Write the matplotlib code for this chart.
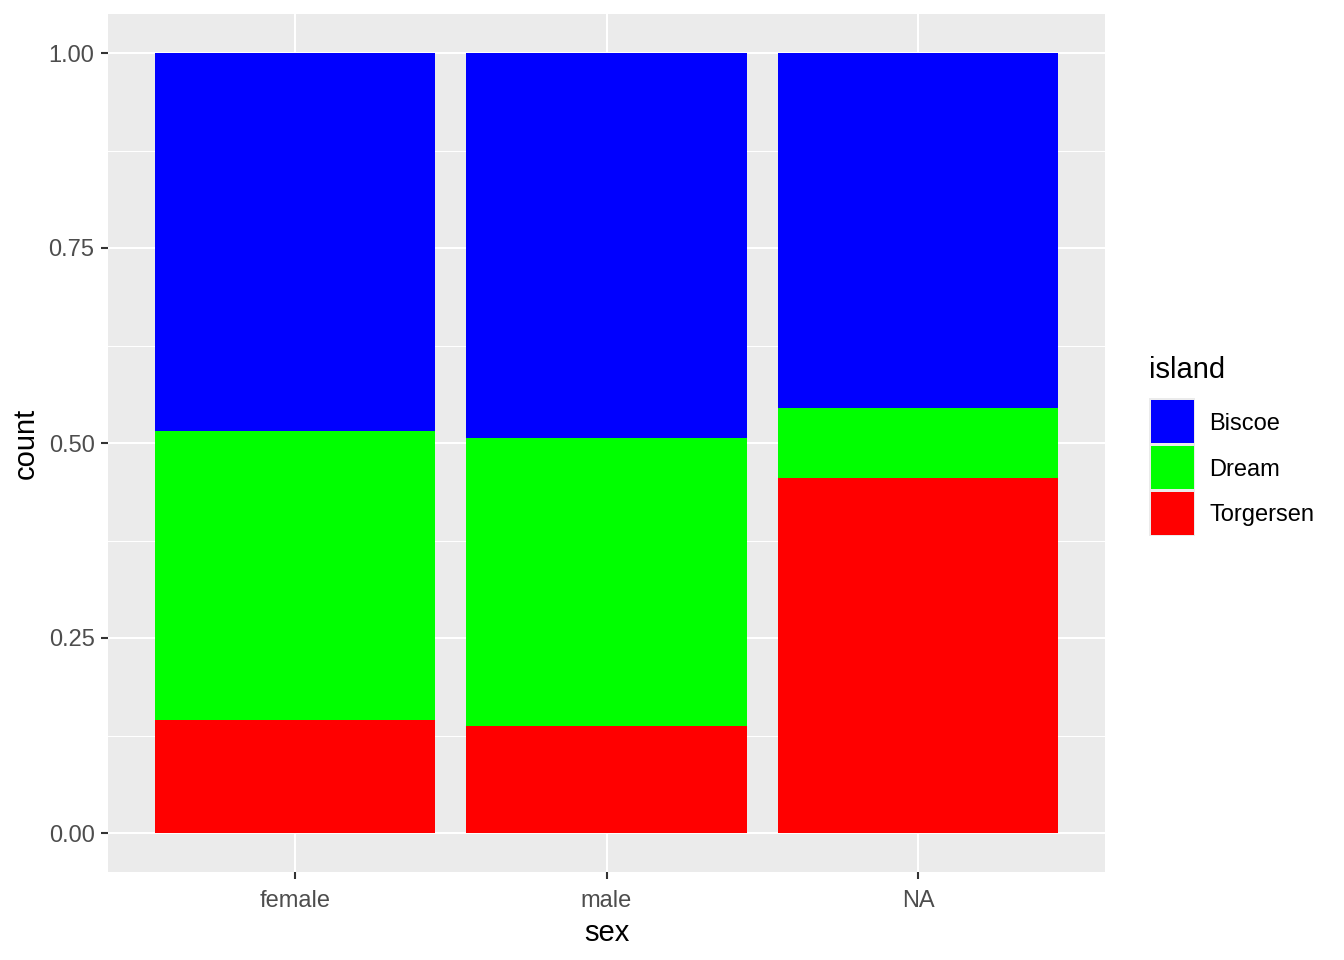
import matplotlib
matplotlib.use("Agg")
import matplotlib.pyplot as plt
from matplotlib.patches import Rectangle
import numpy as np

plt.rcParams['font.family'] = ['Liberation Sans', 'DejaVu Sans']

sexes = ["female", "male", "NA"]
islands = ["Biscoe", "Dream", "Torgersen"]
colors = {"Biscoe": "#0000FF", "Dream": "#00FF00", "Torgersen": "#FF0000"}
biscoe = [80, 83, 5]
dream = [61, 62, 1]
torgersen = [24, 23, 5]

counts = {"Biscoe": np.array(biscoe, float), "Dream": np.array(dream, float),
          "Torgersen": np.array(torgersen, float)}
total = sum(counts.values())

W, H = 1344, 960
fig = plt.figure(figsize=(W / 100, H / 100), dpi=100)
ax = fig.add_axes([108 / W, 1 - 872 / H, (1105 - 108) / W, (872 - 14) / H])
ax.set_facecolor("#EBEBEB")

x = np.arange(1, len(sexes) + 1)
bottom = np.zeros(len(sexes))
for isl in ["Torgersen", "Dream", "Biscoe"]:
    frac = counts[isl] / total
    ax.bar(x, frac, width=0.9, bottom=bottom, color=colors[isl], zorder=3, linewidth=0)
    bottom += frac

ax.set_xlim(0.4, 3.6)
ax.set_ylim(-0.05, 1.05)
ax.set_yticks([0, 0.25, 0.5, 0.75, 1.0])
ax.set_yticklabels(["0.00", "0.25", "0.50", "0.75", "1.00"])
ax.set_yticks([0.125, 0.375, 0.625, 0.875], minor=True)
ax.set_xticks(x)
ax.set_xticklabels(sexes)

ax.grid(which="major", color="white", linewidth=1.5, zorder=1)
ax.grid(which="minor", axis="y", color="white", linewidth=0.75, zorder=1)
ax.set_axisbelow(True)
for s in ax.spines.values():
    s.set_visible(False)
ax.tick_params(which="major", length=5.3, width=1.5, color="#333333",
               labelcolor="#4D4D4D", labelsize=17, pad=4.4)
ax.tick_params(axis="x", which="major", pad=7.5)
ax.tick_params(which="minor", length=0)

ax.set_xlabel("sex", fontsize=21, color="black", labelpad=5)
ax.set_ylabel("count", fontsize=21, color="black", labelpad=6)

# legend
def fx(px):
    return px / W

def fy(py):
    return 1 - py / H

fig.text(fx(1149), fy(378), "island", fontsize=21, color="black", va="baseline", ha="left")
key_top = 398
key_h = 46
for i, isl in enumerate(islands):
    top = key_top + i * key_h
    fig.add_artist(Rectangle((fx(1149), fy(top + key_h)), fx(1195) - fx(1149), key_h / H,
                             transform=fig.transFigure, facecolor="#EBEBEB", edgecolor="none"))
    fig.add_artist(Rectangle((fx(1150.5), fy(top + key_h - 1.5)), fx(1193.5) - fx(1150.5),
                             (key_h - 3) / H, transform=fig.transFigure,
                             facecolor=colors[isl], edgecolor="none"))
    fig.text(fx(1209), fy(top + key_h / 2), isl, fontsize=17, color="black",
             va="center_baseline", ha="left")

fig.savefig("out.png", dpi=100)
